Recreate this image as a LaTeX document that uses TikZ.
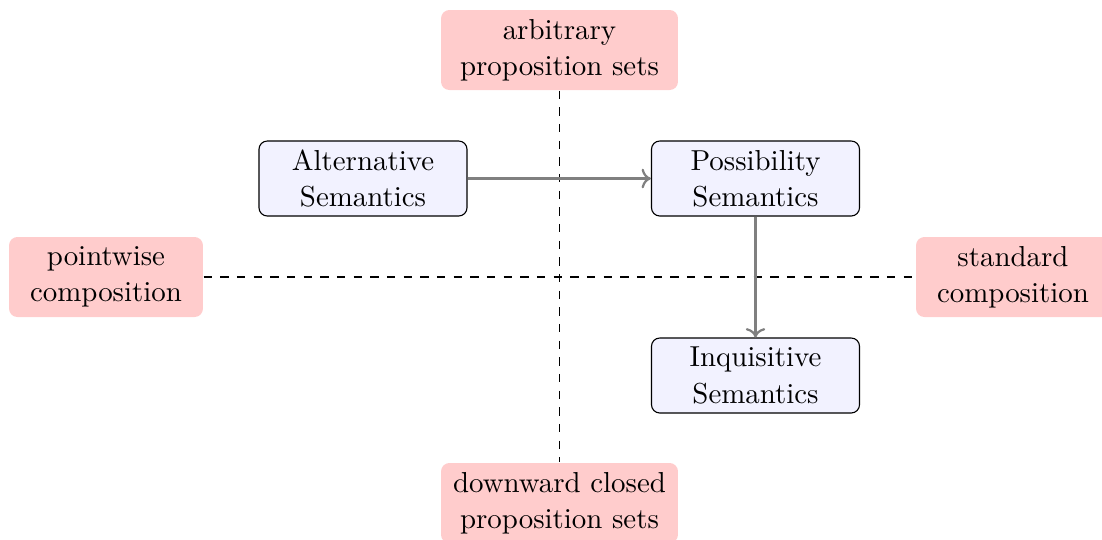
\documentclass[tikz,border=0pt]{standalone}
\usetikzlibrary{arrows.meta}
\begin{document}
\begin{tikzpicture}[x=0.36pt,y=-0.36pt,
  every node/.style={font=\fontsize{10.4pt}{13.1pt}\selectfont},
  sem/.style={draw=black, fill=blue!5, rounded corners=3pt, align=center,
    inner sep=0pt, minimum width=74.9pt, minimum height=27pt},
  prop/.style={fill=red!20, rounded corners=3pt, align=center,
    inner sep=0pt, minimum height=28.8pt},
  conn/.style={draw=gray, thick, ->},
  axis/.style={dashed, thin}]
\useasboundingbox (0,0) rectangle (1102,539);
\node[prop, minimum width=85.3pt] (top) at (559.5,50) {arbitrary\\proposition sets};
\node[prop, minimum width=85.3pt] (bot) at (559.5,503) {downward closed\\proposition sets};
\node[prop, minimum width=69.8pt] (left) at (106,277) {pointwise\\composition};
\node[prop, minimum width=69.8pt] (right) at (1013,277) {standard\\composition};
\node[sem] (alt) at (363,178.5) {Alternative\\Semantics};
\node[sem] (pos) at (755.5,178.5) {Possibility\\Semantics};
\node[sem] (inq) at (755.5,375.5) {Inquisitive\\Semantics};
\draw[axis] (top) -- (bot);
\draw[axis] (left) -- (right);
\draw[conn] (alt) -- (pos);
\draw[conn] (pos) -- (inq);
\end{tikzpicture}
\end{document}
